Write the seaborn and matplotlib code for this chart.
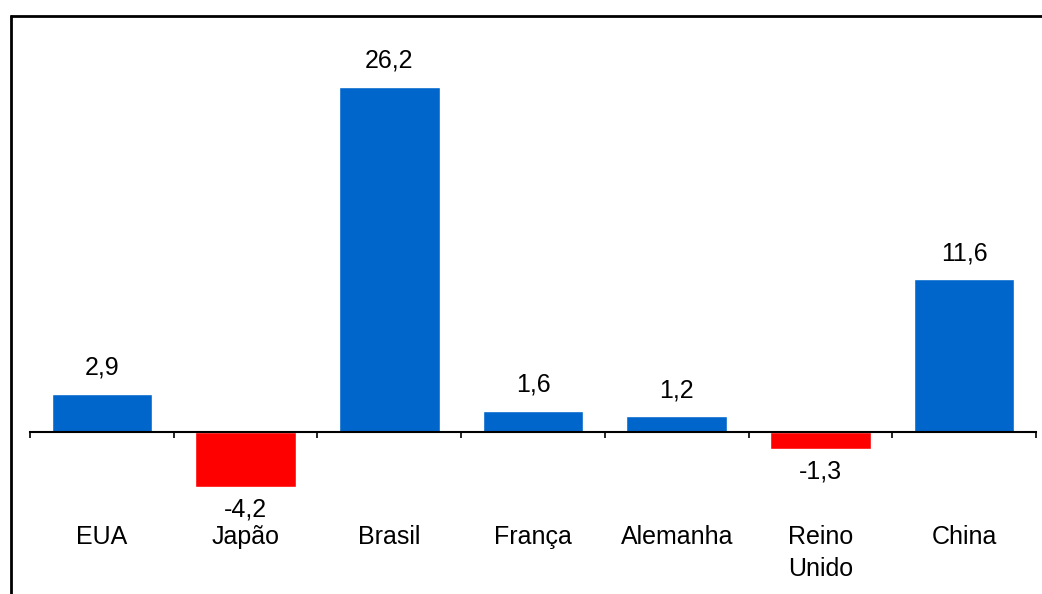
import matplotlib
matplotlib.use("Agg")
import matplotlib.pyplot as plt
import matplotlib.transforms as mtransforms
from matplotlib.lines import Line2D
import seaborn as sns

# Variação por país (%)
categories = ["EUA", "Japão", "Brasil", "França", "Alemanha", "Reino\nUnido", "China"]
values = [2.9, -4.2, 26.2, 1.6, 1.2, -1.3, 11.6]
value_labels = ["2,9", "-4,2", "26,2", "1,6", "1,2", "-1,3", "11,6"]

POS_COLOR = "#0066CC"
NEG_COLOR = "#FF0000"
bar_colors = [POS_COLOR if v >= 0 else NEG_COLOR for v in values]

sns.set_theme(style="white")
plt.rcParams["font.family"] = ["Liberation Sans", "DejaVu Sans"]

FS = 18
W, H = 1042, 594
fig = plt.figure(figsize=(W / 100, H / 100), dpi=100)
fig.patch.set_facecolor("white")

# axes box in pixels: x 30..1036, y 30..520 (from top)
ax = fig.add_axes([30 / W, 1 - 520 / H, (1036 - 30) / W, (520 - 30) / H])
ax.set_facecolor("white")

sns.barplot(x=categories, y=values, hue=categories, palette=bar_colors,
            width=0.7, legend=False, saturation=1, ax=ax)

ax.set_xlim(-0.5, len(categories) - 0.5)
ax.set_ylim(-6.68, 30.53)

for s in ["top", "right", "left"]:
    ax.spines[s].set_visible(False)
ax.spines["bottom"].set_position(("data", 0))
ax.spines["bottom"].set_linewidth(1.5)
ax.spines["bottom"].set_color("black")
ax.set_yticks([])
ax.set_xticks([i - 0.5 for i in range(len(categories) + 1)])
ax.set_xticklabels([])
ax.tick_params(axis="x", direction="out", length=4.5, width=1.2, color="black", bottom=True)
ax.set_xlabel("")
ax.set_ylabel("")

# value labels
for i, (v, lab) in enumerate(zip(values, value_labels)):
    off = 13.7 if v >= 0 else -21.0
    ax.annotate(lab, xy=(i, v), xytext=(0, off), textcoords="offset points",
                ha="center", va="baseline", fontsize=FS, color="black")

# category labels at a fixed height, one baseline per line
trans = mtransforms.blended_transform_factory(ax.transData, fig.transFigure)
for i, c in enumerate(categories):
    for j, line in enumerate(c.split("\n")):
        ax.text(i, 1 - (544 + 32 * j) / H, line, transform=trans, ha="center",
                va="baseline", fontsize=FS, color="black", clip_on=False)

# outer frame (top and left edges)
fig.add_artist(Line2D([10.5 / W, 10.5 / W], [0, 1 - 15 / H], transform=fig.transFigure,
                      color="black", linewidth=2, solid_capstyle="butt"))
fig.add_artist(Line2D([9.5 / W, 1], [1 - 15.5 / H, 1 - 15.5 / H], transform=fig.transFigure,
                      color="black", linewidth=2, solid_capstyle="butt"))

fig.savefig("out.png", dpi=100, facecolor="white")
